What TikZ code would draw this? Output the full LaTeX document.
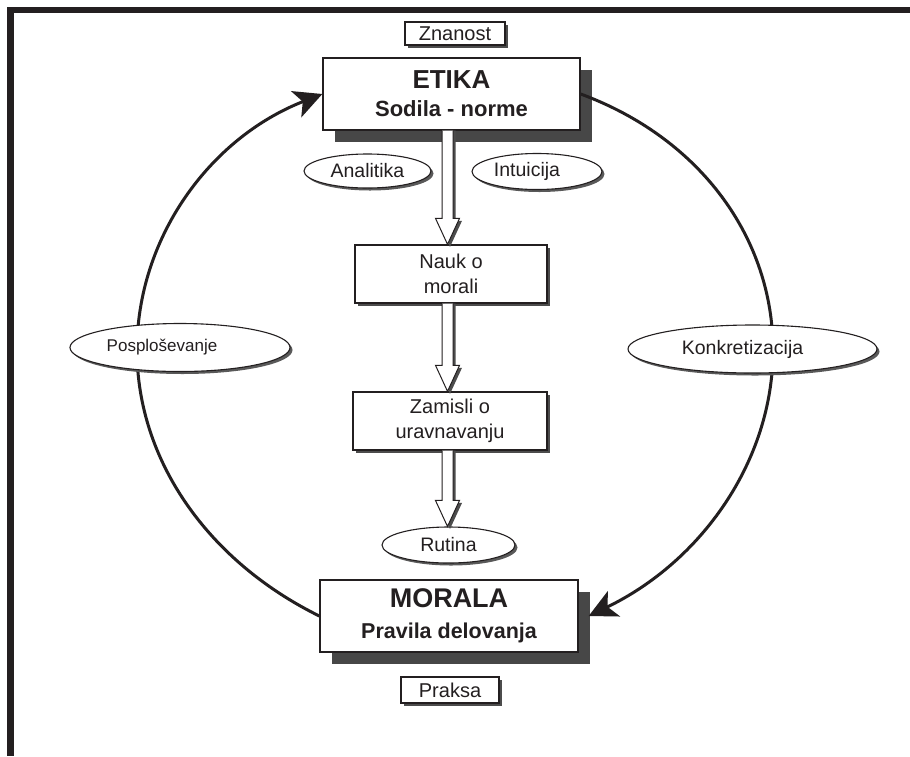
\documentclass[tikz,border=0pt]{standalone}
\usepackage{fontspec}
\setmainfont{Liberation Sans}
\usetikzlibrary{shapes.geometric,shadows,calc,arrows.meta}
\definecolor{ink}{HTML}{231F20}
\newcommand{\holarrow}[2]{%
  \fill[black!70] let \p1=(#1.south -| ax), \p2=(#2.north -| ax) in
    (\x1-3pt,\y1) -- (\x1-3pt,\y2+23.5pt) -- (\x1-9.5pt,\y2+23.5pt) -- (\x1+2.5pt,\y2-2.5pt)
    -- (\x1+14.5pt,\y2+23.5pt) -- (\x1+8pt,\y2+23.5pt) -- (\x1+8pt,\y1) -- cycle;
  \filldraw[fill=white, draw=ink, line width=1pt] let \p1=(#1.south -| ax), \p2=(#2.north -| ax) in
    (\x1-5.5pt,\y1) -- (\x1-5.5pt,\y2+26pt) -- (\x1-12pt,\y2+26pt) -- (\x1,\y2)
    -- (\x1+12pt,\y2+26pt) -- (\x1+5.5pt,\y2+26pt) -- (\x1+5.5pt,\y1);
}
\begin{document}
\begin{tikzpicture}[x=1pt,y=-1pt,
  box/.style={draw=ink, line width=1.3pt, fill=white, text=ink, inner sep=0pt, align=center},
  bigshadow/.style={drop shadow={shadow xshift=12pt, shadow yshift=-12pt, fill=black!72, opacity=1}},
  smallshadow/.style={drop shadow={shadow xshift=3pt, shadow yshift=-3pt, fill=black!70, opacity=1}},
  oval/.style={ellipse, draw=ink, line width=1.1pt, fill=white, text=ink, inner sep=0pt,
    font=\fontsize{19.5}{22}\selectfont,
    drop shadow={shadow xshift=2.5pt, shadow yshift=-2.5pt, fill=black!65, opacity=1}},
  lbl/.style={font=\fontsize{20}{25}\selectfont},
  loopline/.style={draw=ink, line width=3pt, -{Stealth[length=28pt,width=28pt,inset=7pt]}},
  loopplain/.style={draw=ink, line width=3pt},
]
\useasboundingbox (0,0) rectangle (910,756);
\fill[white] (0,0) rectangle (910,756);
% frame
\fill[ink] (7,7) rectangle (910,13);
\fill[ink] (7,7) rectangle (14,756);

\coordinate (ax) at (447.5,0);

% main boxes
\node[box, bigshadow, minimum width=257pt, minimum height=72pt,
      font=\fontsize{22}{28}\selectfont\bfseries] (eti) at (451.5,94)
      {{\fontsize{26}{28}\selectfont ETIKA}\\Sodila - norme};
\node[box, bigshadow, minimum width=258pt, minimum height=72pt,
      font=\fontsize{21.5}{31}\selectfont\bfseries] (mor) at (449,616)
      {{\fontsize{27}{31}\selectfont MORALA}\\Pravila delovanja};

\node[box, smallshadow, minimum width=192pt, minimum height=58pt, lbl] (nauk) at (451,274) {Nauk o\\morali};
\node[box, smallshadow, minimum width=194pt, minimum height=58pt, lbl] (zam) at (450,421) {Zamisli o\\uravnavanju};
\node[box, smallshadow, line width=1.1pt, minimum width=100pt, minimum height=23pt, lbl] (znan) at (455,33.5) {Znanost};
\node[box, smallshadow, line width=1.1pt, minimum width=98pt, minimum height=26pt, lbl] (prak) at (450,690) {Praksa};

% ellipses
\node[oval, minimum width=127pt, minimum height=34pt] (anal) at (367.5,171) {Analitika};
\node[oval, minimum width=130pt, minimum height=36pt] (intu) at (537,171.5) {Intuicija\rule{20pt}{0pt}};
\node[oval, minimum width=133pt, minimum height=36pt] (rut) at (448.5,545) {Rutina};

% hollow arrows
\holarrow{eti}{nauk}
\holarrow{nauk}{zam}
\holarrow{zam}{rut}

% big cycle
\coordinate (lft) at (137,350);
\coordinate (rgt) at (773,350);
\draw[loopplain] (mor.west) .. controls (208.6,561.5) and (137,460.8) .. (lft);
\draw[loopline] (lft) .. controls (137,239.2) and (208.6,138.5) .. (eti.west);
\draw[loopplain] (eti.east) .. controls (701.4,138.5) and (773,239.2) .. (rgt);
\draw[loopline] (rgt) .. controls (773,460.8) and (701.4,561.5) .. ($(mor.east)+(10,0)$);

\node[oval, minimum width=220pt, minimum height=48pt, font=\fontsize{17}{20}\selectfont] (posp) at (180,347.5) {Posploševanje\rule{36pt}{0pt}};
\node[oval, minimum width=249pt, minimum height=48pt] (konk) at (752.5,349) {Konkretizacija\rule{20pt}{0pt}};
\end{tikzpicture}
\end{document}
